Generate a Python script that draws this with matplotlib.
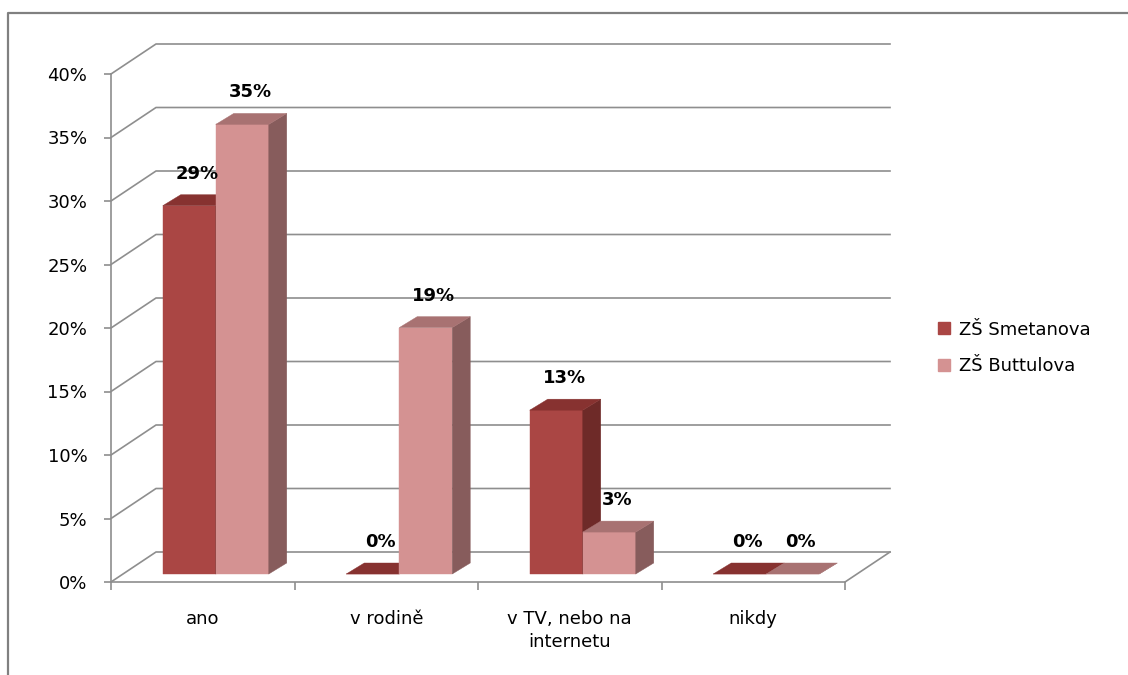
import numpy as np
import matplotlib
matplotlib.use('Agg')
import matplotlib.pyplot as plt
from matplotlib.patches import Polygon, Patch
from matplotlib.lines import Line2D
from matplotlib.ticker import PercentFormatter

categories = ['ano', 'v rodině', 'v TV, nebo na\ninternetu', 'nikdy']
smetanova = [0.29, 0.0, 0.129, 0.0]
buttulova = [0.354, 0.194, 0.033, 0.0]
series_names = ['ZŠ Smetanova', 'ZŠ Buttulova']
yticks = [0, 0.05, 0.10, 0.15, 0.20, 0.25, 0.30, 0.35, 0.40]

# colours: front, top, side
red = ('#AA4644', '#873230', '#6E2A28')
pink = ('#D49292', '#A87272', '#875C5C')
grid = '#8E8E8E'
fs = 13

plt.rcParams['font.family'] = 'DejaVu Sans'

W, H = 1128, 675
fig = plt.figure(figsize=(W / 100, H / 100), dpi=100)
ax_w, ax_h = 734, 508
ax = fig.add_axes([111 / W, (H - 582) / H, ax_w / W, ax_h / H])
ax.set_xlim(0, 4)
ax.set_ylim(0, 0.4)
ax.patch.set_visible(False)

px_x = ax_w / 4.0
px_y = ax_h / 0.4


def off(dx, dy):
    # pixel offset -> data units
    return dx / px_x, dy / px_y


# back wall + floor
wx, wy = off(45, 30)
for t in yticks:
    ax.plot([0, wx, 4 + wx], [t, t + wy, t + wy], color=grid, lw=1.2,
            clip_on=False, zorder=1)
ax.plot([4, 4 + wx], [0, wy], color=grid, lw=1.2, clip_on=False, zorder=1)

# bars
bx, by = off(13, 8)
dx, dy = off(18, 11)
w = 53 / px_x


def bar3d(x0, v, cols, z):
    y1 = by + v
    ax.bar(x0, v, w, bottom=by, align='edge', color=cols[0],
           edgecolor=cols[0], lw=0.3, zorder=z)
    ax.add_patch(Polygon([(x0 + w, by), (x0 + w + dx, by + dy),
                          (x0 + w + dx, y1 + dy), (x0 + w, y1)],
                         closed=True, fc=cols[2], ec=cols[2], lw=0.3, zorder=z))
    ax.add_patch(Polygon([(x0, y1), (x0 + w, y1), (x0 + w + dx, y1 + dy),
                          (x0 + dx, y1 + dy)],
                         closed=True, fc=cols[1], ec=cols[1], lw=0.3, zorder=z))
    ax.annotate(f'{v * 100:.0f}%', (x0 + w / 2, y1), xytext=(8, 32),
                textcoords='offset pixels', ha='center', va='center',
                fontweight='bold', fontsize=fs, zorder=10)


z = 2
for i in range(len(categories)):
    c = i + 0.5 + bx
    bar3d(c - w, smetanova[i], red, z)
    bar3d(c, buttulova[i], pink, z + 1)
    z += 2

# axes
for s in ['top', 'right']:
    ax.spines[s].set_visible(False)
for s in ['left', 'bottom']:
    ax.spines[s].set_color(grid)
    ax.spines[s].set_linewidth(1.2)
ax.set_yticks(yticks)
ax.yaxis.set_major_formatter(PercentFormatter(1.0, decimals=0))
ax.tick_params(axis='y', length=5, width=1.2, color=grid, pad=12, labelsize=fs)
ax.set_xticks(np.arange(5))
ax.set_xticklabels([])
ax.tick_params(axis='x', which='major', length=6, width=1.2, color=grid)
ax.set_xticks(np.arange(4) + 0.5, minor=True)
ax.set_xticklabels(categories, minor=True, linespacing=1.35)
ax.tick_params(axis='x', which='minor', length=0, pad=20, labelsize=fs)

# legend
handles = [Patch(color=red[0]), Patch(color=pink[0])]
fig.legend(handles, series_names, loc='center left',
           bbox_to_anchor=(922 / W, 1 - 348 / H), frameon=False,
           fontsize=fs, handlelength=0.65, handleheight=0.65,
           handletextpad=0.5, labelspacing=1.05)

# chart border
fig.add_artist(Line2D([8 / W, 8 / W, 1], [0, 1 - 13 / H, 1 - 13 / H],
                      transform=fig.transFigure, color='#808080', lw=1.6))

fig.savefig('out.png', dpi=100)
